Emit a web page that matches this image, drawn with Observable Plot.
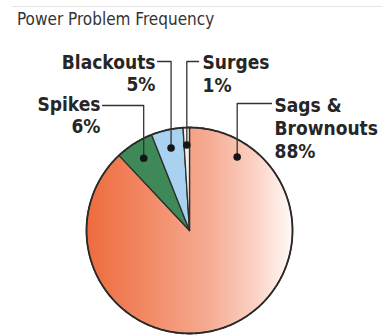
<!DOCTYPE html>
<html><head><meta charset="utf-8">
<script src="https://cdn.jsdelivr.net/npm/d3@7"></script>
<script src="https://cdn.jsdelivr.net/npm/@observablehq/plot@0.6"></script>
<style>
body{margin:0;background:#fff;width:382px;height:335px;overflow:hidden}
#head{position:relative;height:32px}
#rule{position:absolute;left:12px;right:0;top:6px;border-top:1px solid #e6e6e6}
#title{position:absolute;left:17px;top:10px;font:17px/18px "DejaVu Sans Condensed","DejaVu Sans",sans-serif;font-stretch:condensed;color:#333;white-space:nowrap}
#chart svg{display:block}
</style></head><body>
<div id="head"><div id="rule"></div><div id="title">Power Problem Frequency</div></div>
<div id="chart"></div>
<script>
// ---- data ----
const categories = ["Sags & Brownouts", "Spikes", "Blackouts", "Surges"];
const shares = [88, 6, 5, 1];
const labelNames = ["Sags &\nBrownouts", "Spikes", "Blackouts", "Surges"];
const sliceColors = ["url(#sagsGrad)", "#3e8957", "#a8d2ef", "#f3f1ea"];

// ---- layout (page pixels, converted to data units through the pie frame) ----
const CX = 189, CY = 230, R = 103;
const X = px => (px - CX) / R;
const Y = py => (CY - py) / R;
const layout = {
  "Sags & Brownouts": {angle: 33, rad: 0.85, lineY: 103, endX: 271, textX: 274, textY: 95, anchor: "start", size: 19},
  "Spikes":           {angle: null, rad: 0.83, lineY: 105, endX: 102, textX: 100, textY: 94, anchor: "end", size: 19},
  "Blackouts":        {angle: null, rad: 0.82, lineY: 61, endX: 157, textX: 155, textY: 52, anchor: "end", size: 19},
  "Surges":           {angle: null, rad: 0.83, lineY: 61, endX: 198, textX: 202, textY: 52, anchor: "start", size: 19}
};

const rows = categories.map((name, i) => ({name, share: shares[i], label: labelNames[i] + "\n" + shares[i] + "%", color: sliceColors[i]}));
const arcs = d3.pie().sort(null).value(d => d.share)(rows);

function arcPoints(a0, a1, closed) {
  const pts = closed ? [{x: 0, y: 0}] : [];
  const n = Math.max(2, Math.ceil((a1 - a0) / (Math.PI / 180)));
  for (let k = 0; k <= n; k++) {
    const a = a0 + (a1 - a0) * k / n;
    pts.push({x: Math.sin(a), y: Math.cos(a)});
  }
  if (closed) pts.push({x: 0, y: 0});
  return pts;
}

const sliceMarks = arcs.map(a => Plot.line(arcPoints(a.startAngle, a.endAngle, true), {
  x: "x", y: "y", fill: a.data.color, stroke: "#2e2e2e", strokeWidth: 1.3, strokeLinejoin: "round"
}));

const dots = [], leaders = [], labels = [];
arcs.forEach(a => {
  const L = layout[a.data.name];
  const ang = L.angle != null ? L.angle * Math.PI / 180 : (a.startAngle + a.endAngle) / 2;
  const d = {name: a.data.name, x: L.rad * Math.sin(ang), y: L.rad * Math.cos(ang)};
  dots.push(d);
  leaders.push(d, {name: d.name, x: d.x, y: Y(L.lineY)}, {name: d.name, x: X(L.endX), y: Y(L.lineY)});
  labels.push({name: d.name, text: a.data.label, x: X(L.textX), y: Y(L.textY), anchor: L.anchor, size: L.size});
});

const defsMark = () => {
  const ns = "http://www.w3.org/2000/svg";
  const defs = document.createElementNS(ns, "defs");
  const g = document.createElementNS(ns, "linearGradient");
  g.setAttribute("id", "sagsGrad");
  g.setAttribute("x1", "0"); g.setAttribute("y1", "0"); g.setAttribute("x2", "1"); g.setAttribute("y2", "0");
  [[0, "#ee6b3e"], [0.3, "#f28a66"], [0.6, "#f6ac94"], [0.82, "#fbd2c4"], [1, "#fffaf8"]].forEach(([o, c]) => {
    const s = document.createElementNS(ns, "stop");
    s.setAttribute("offset", o); s.setAttribute("stop-color", c);
    g.appendChild(s);
  });
  defs.appendChild(g);
  return defs;
};

const font = "'DejaVu Sans Condensed','DejaVu Sans',sans-serif";
const plot = Plot.plot({
  width: 382, height: 303,
  marginLeft: 86, marginRight: 90, marginTop: 95, marginBottom: 2,
  x: {domain: [-1, 1], axis: null},
  y: {domain: [-1, 1], axis: null},
  marks: [
    defsMark,
    ...sliceMarks,
    Plot.line(arcPoints(0, 2 * Math.PI, false), {x: "x", y: "y", stroke: "#2a2a2a", strokeWidth: 1.8}),
    Plot.line(leaders, {x: "x", y: "y", z: "name", stroke: "#333", strokeWidth: 1.3}),
    Plot.dot(dots, {x: "x", y: "y", r: 3.8, fill: "#151515", stroke: null}),
    Plot.text(labels.filter(d => d.anchor === "start"), {x: "x", y: "y", text: "text", textAnchor: "start", lineAnchor: "top", fontSize: "size", fontWeight: "bold", fontFamily: font, lineHeight: 1.22, fill: "#262626"}),
    Plot.text(labels.filter(d => d.anchor === "end"), {x: "x", y: "y", text: "text", textAnchor: "end", lineAnchor: "top", fontSize: "size", fontWeight: "bold", fontFamily: font, lineHeight: 1.2, fill: "#262626"})
  ]
});
plot.style.fontStretch = "condensed";
document.getElementById("chart").appendChild(plot);
</script></body></html>
